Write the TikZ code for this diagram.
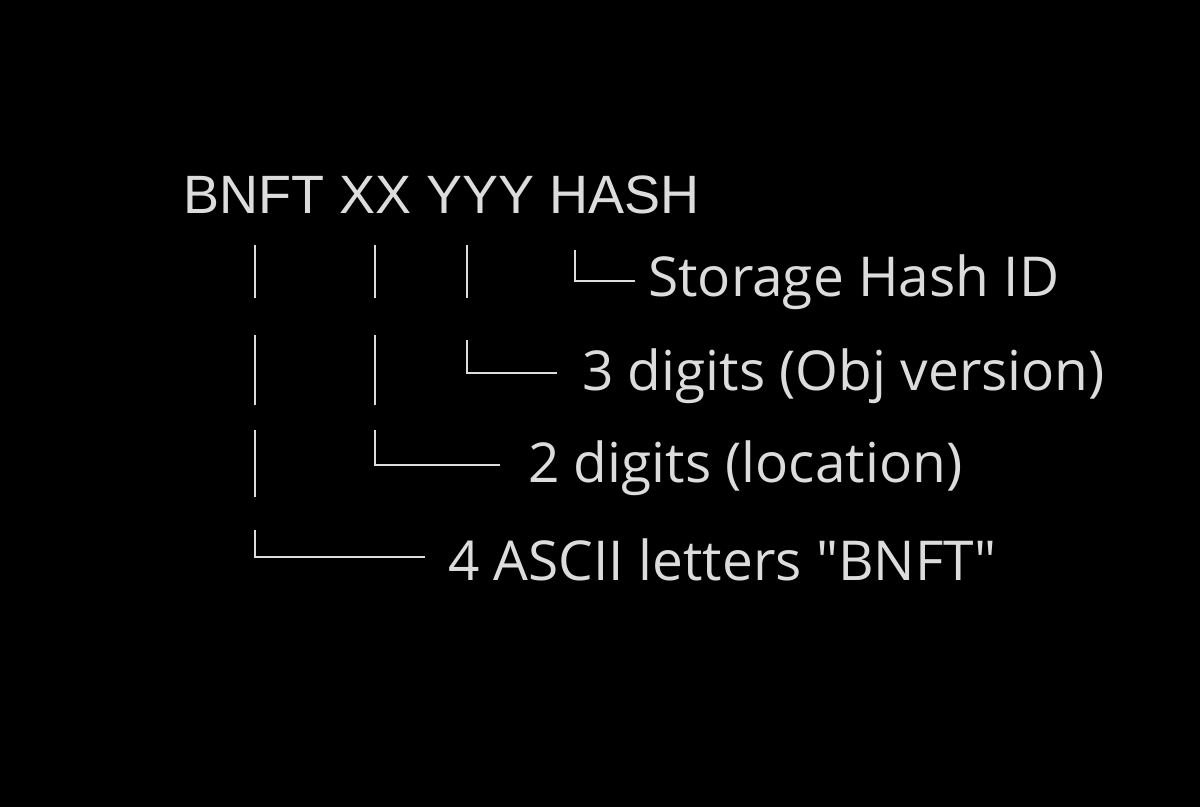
\documentclass[tikz,border=0pt]{standalone}
\usepackage{fontspec}
\setmainfont{Liberation Sans}
\newfontfamily\labfont{Open Sans}
\definecolor{fg}{HTML}{DCDCDC}
\begin{document}
\begin{tikzpicture}[x=1pt,y=-1pt,
  lab/.style={anchor=west,text=fg,font=\labfont\fontsize{55}{60}\selectfont,inner sep=0pt},
  ln/.style={draw=fg,line width=2.8pt}]
\fill[black] (0,0) rectangle (1200,807);
\useasboundingbox (0,0) rectangle (1200,807);
\node[anchor=base west,text=fg,font=\fontsize{54}{58}\selectfont,inner sep=0pt] (top) at (183,213) {BNFT XX YYY HASH};
\node[lab] (l1) at (648,282) {Storage Hash ID};
\node[lab] (l2) at (582,376) {3 digits (Obj version)};
\node[lab] (l3) at (528,468) {2 digits (location)};
\node[lab] (l4) at (448,560) {4 ASCII letters "BNFT"};
% column x=255
\foreach \a/\b in {245/298,335/405,430/497}{\draw[ln] (255,\a) -- (255,\b);}
\draw[ln] (255,530) -- (255,557) -- (425,557);
% column x=375
\foreach \a/\b in {245/298,335/405}{\draw[ln] (375,\a) -- (375,\b);}
\draw[ln] (375,430) -- (375,465) -- (500,465);
% column x=467
\draw[ln] (467,245) -- (467,298);
\draw[ln] (467,340) -- (467,373) -- (557,373);
% column x=575
\draw[ln] (575,250) -- (575,281) -- (635,281);
\end{tikzpicture}
\end{document}
